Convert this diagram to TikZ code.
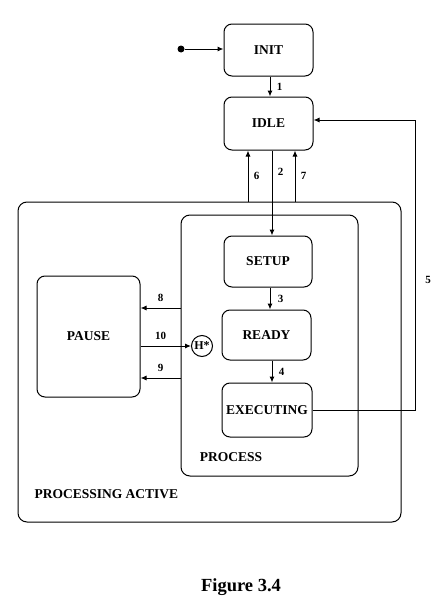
\documentclass[tikz,border=0pt]{standalone}
\usepackage{fontspec}
\setmainfont{Liberation Serif}
\usetikzlibrary{arrows.meta}
\tikzset{
  state/.style={draw,rounded corners=8pt,line width=1pt,minimum width=89pt,minimum height=52pt,inner sep=0pt,font=\fontsize{13.5}{14}\selectfont\bfseries},
  group/.style={draw,rounded corners=9pt,line width=1pt,inner sep=0pt},
  lbl/.style={font=\fontsize{11}{12}\selectfont\bfseries},
  arr/.style={-{Latex[length=6pt,width=5pt]},line width=1pt}
}
\begin{document}
\begin{tikzpicture}[x=1pt,y=-1pt]
  \useasboundingbox (0,0) rectangle (447,597);
  % containers
  \node[group,minimum width=383pt,minimum height=320pt] (active) at (209.5,362) {};
  \node[group,minimum width=177pt,minimum height=261pt] (process) at (269.5,345.5) {};
  \node[font=\fontsize{13.5}{15}\selectfont\bfseries,anchor=west] (activelbl) at (31,494) {PROCESSING ACTIVE};
  \node[font=\fontsize{13.5}{15}\selectfont\bfseries] (processlbl) at (231,457) {PROCESS};
  % states
  \node[state] (init) at (268.5,50) {INIT};
  \node[state,minimum height=53pt] (idle) at (268.5,123.5) {IDLE};
  \node[state,minimum width=88pt,minimum height=51pt] (setup) at (268,261.5) {SETUP};
  \node[state,minimum width=89pt,minimum height=50pt] (ready) at (266.5,335) {READY};
  \node[state,minimum width=90pt,minimum height=54pt] (exec) at (267,410) {EXECUTING};
  \node[state,minimum width=103pt,minimum height=121pt] (pause) at (88.5,336.5) {PAUSE};
  \node[draw,circle,line width=1pt,minimum size=21pt,inner sep=0pt,font=\fontsize{12}{12}\selectfont\bfseries] (hist) at (202,346) {H*};
  % initial
  \node[circle,fill,inner sep=0pt,minimum size=7pt] (start) at (181,49) {};
  \draw[arr] (start)--(init.west |- start);
  \draw[arr] ([xshift=1.5pt]init.south)--([xshift=1.5pt]idle.north) node[lbl,midway,right=3pt] {1};
  % idle <-> processing active
  \draw[arr] ([xshift=-20.5pt]idle.south |- active.north)--([xshift=-20.5pt]idle.south) node[lbl,pos=0.5,right=2pt] {6};
  \draw[arr] ([xshift=3.5pt]idle.south)--([xshift=3.5pt]idle.south |- setup.north) node[lbl,pos=0.25,right=2pt] {2};
  \draw[arr] ([xshift=26.5pt]idle.south |- active.north)--([xshift=26.5pt]idle.south) node[lbl,pos=0.5,right=2pt] {7};
  % inside process
  \draw[arr] ([xshift=2pt]setup.south)--([xshift=3.5pt]ready.north) node[lbl,midway,right=4pt] {3};
  \draw[arr] ([xshift=5.5pt]ready.south)--([xshift=5pt]exec.north) node[lbl,midway,right=3pt] {4};
  % executing -> idle
  \coordinate (r5) at (415,120);
  \draw[arr] (exec.east)--(exec.east -| r5)--(r5)--(idle.east |- r5);
  \node[lbl] (l5) at (428,280) {5};
  % pause
  \draw[arr] (process.west |- 0,308)--(pause.east |- 0,308) node[lbl,midway,above=3pt] {8};
  \draw[arr] (pause.east |- hist)--(hist.west) node[lbl,pos=0.4,above=3pt] {10};
  \draw[arr] (process.west |- 0,378)--(pause.east |- 0,378) node[lbl,midway,above=3pt] {9};
  % caption
  \node[font=\fontsize{18.5}{20}\selectfont\bfseries] (caption) at (241,587) {Figure 3.4};
\end{tikzpicture}
\end{document}
